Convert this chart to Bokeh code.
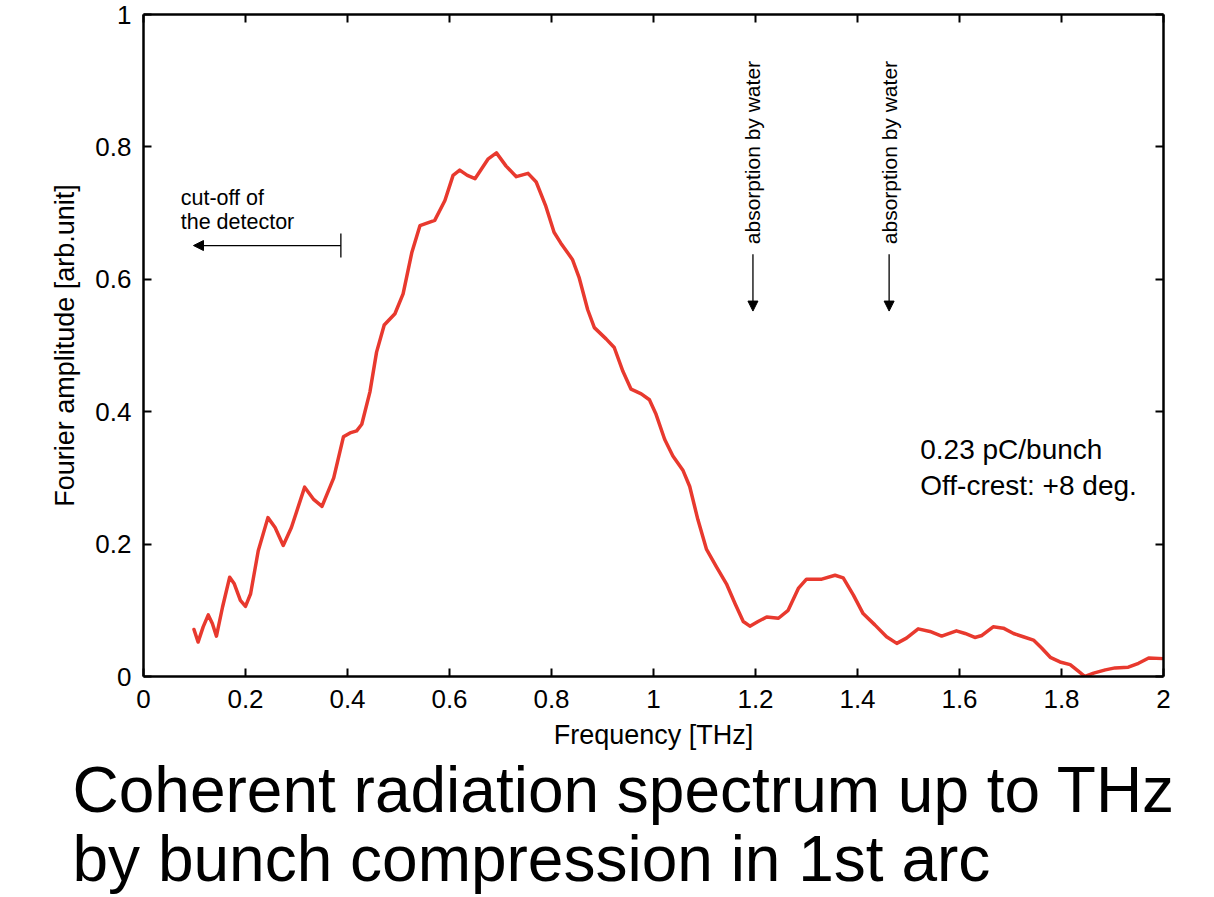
from bokeh.plotting import figure
from bokeh.models import (Range1d, LinearAxis, FixedTicker, CustomJSTickFormatter,
                          Arrow, NormalHead, Title, Label)
from bokeh.embed import file_html
from bokeh.resources import INLINE
import math

# ---- data ----
freq = [0.099, 0.107, 0.117, 0.127, 0.135, 0.143, 0.155, 0.169, 0.178, 0.19, 0.200, 0.210,
        0.225, 0.244, 0.258, 0.274, 0.29, 0.316, 0.333, 0.350, 0.373, 0.392, 0.405, 0.418,
        0.428, 0.444, 0.457, 0.472, 0.493, 0.509, 0.526, 0.542, 0.571, 0.591, 0.607, 0.620,
        0.635, 0.650, 0.676, 0.692, 0.711, 0.731, 0.754, 0.770, 0.789, 0.805, 0.818, 0.841,
        0.854, 0.871, 0.884, 0.907, 0.923, 0.940, 0.956, 0.976, 0.992, 1.005, 1.022, 1.038,
        1.058, 1.071, 1.087, 1.104, 1.124, 1.143, 1.160, 1.176, 1.189, 1.205, 1.222, 1.245,
        1.264, 1.284, 1.300, 1.330, 1.356, 1.372, 1.392, 1.411, 1.434, 1.457, 1.477, 1.496,
        1.519, 1.542, 1.565, 1.594, 1.611, 1.630, 1.644, 1.666, 1.686, 1.706, 1.725, 1.745,
        1.761, 1.778, 1.797, 1.817, 1.833, 1.846, 1.863, 1.886, 1.905, 1.931, 1.951, 1.971, 2.0]
amplitude = [0.071, 0.052, 0.075, 0.093, 0.080, 0.061, 0.105, 0.150, 0.140, 0.115, 0.106, 0.125,
             0.190, 0.240, 0.225, 0.198, 0.225, 0.286, 0.268, 0.257, 0.300, 0.362, 0.368, 0.371,
             0.381, 0.430, 0.490, 0.531, 0.548, 0.578, 0.640, 0.681, 0.689, 0.719, 0.757, 0.765,
             0.757, 0.752, 0.782, 0.791, 0.771, 0.755, 0.760, 0.747, 0.710, 0.671, 0.655, 0.630,
             0.603, 0.554, 0.527, 0.510, 0.497, 0.461, 0.434, 0.427, 0.418, 0.396, 0.358, 0.333,
             0.311, 0.287, 0.237, 0.192, 0.165, 0.140, 0.110, 0.083, 0.076, 0.083, 0.090, 0.088,
             0.100, 0.133, 0.147, 0.147, 0.153, 0.149, 0.123, 0.095, 0.078, 0.060, 0.050, 0.058,
             0.072, 0.068, 0.061, 0.069, 0.065, 0.059, 0.062, 0.075, 0.073, 0.065, 0.060, 0.055,
             0.043, 0.029, 0.022, 0.018, 0.008, 0.000, 0.005, 0.010, 0.013, 0.014, 0.020, 0.028, 0.027]

x_ticks = [0, 0.2, 0.4, 0.6, 0.8, 1, 1.2, 1.4, 1.6, 1.8, 2]
x_tick_labels = ["0", "0.2", "0.4", "0.6", "0.8", "1", "1.2", "1.4", "1.6", "1.8", "2"]
y_ticks = [0, 0.2, 0.4, 0.6, 0.8, 1]
y_tick_labels = ["0", "0.2", "0.4", "0.6", "0.8", "1"]

cutoff_freq = 0.387
cutoff_arrow_end = 0.098
cutoff_level = 0.651
water_freqs = [1.195, 1.462]

caption_lines = ["Coherent radiation spectrum up to THz", "by bunch compression in 1st arc"]

FONT = "Liberation Sans"

p = figure(width=1206, height=895, output_backend="svg", toolbar_location=None,
           x_range=Range1d(0, 2), y_range=Range1d(0, 1),
           min_border_left=143, min_border_right=43, min_border_top=14, min_border_bottom=219,
           x_axis_label="Frequency [THz]", y_axis_label="Fourier amplitude [arb.unit]")
p.outline_line_color = None
p.grid.visible = False
p.background_fill_color = "white"
p.border_fill_color = "white"


def fmt(ticks, labels):
    return CustomJSTickFormatter(args=dict(tv=ticks, tl=labels), code="""
        for (let i = 0; i < tv.length; i++) {
            if (Math.abs(tv[i] - tick) < 1e-9) { return tl[i]; }
        }
        return String(tick);
    """)


def style_axis(ax, ticks, labels, show_labels=True):
    ax.ticker = FixedTicker(ticks=ticks)
    ax.formatter = fmt(ticks, labels)
    ax.axis_line_width = 2.5
    ax.axis_line_color = "black"
    ax.major_tick_in = 8
    ax.major_tick_out = 0
    ax.major_tick_line_width = 2
    ax.major_tick_line_color = "black"
    ax.minor_tick_line_color = None
    ax.major_label_text_font = FONT
    ax.major_label_text_font_size = "26px"
    ax.major_label_text_color = "black"
    ax.axis_label_text_font = FONT
    ax.axis_label_text_font_size = "27px"
    ax.axis_label_text_font_style = "normal"
    ax.axis_label_text_color = "black"
    if not show_labels:
        ax.major_label_text_font_size = "0px"
        ax.major_label_standoff = 0
        ax.major_label_text_color = None


style_axis(p.xaxis[0], x_ticks, x_tick_labels)
style_axis(p.yaxis[0], y_ticks, y_tick_labels)
p.xaxis[0].major_label_standoff = 13
p.xaxis[0].axis_label_standoff = 9
p.yaxis[0].major_label_standoff = 12
p.yaxis[0].axis_label_standoff = 12

top_ax = LinearAxis()
style_axis(top_ax, x_ticks, x_tick_labels, show_labels=False)
p.add_layout(top_ax, "above")
right_ax = LinearAxis()
style_axis(right_ax, y_ticks, y_tick_labels, show_labels=False)
p.add_layout(right_ax, "right")

# spectrum
p.line(freq, amplitude, line_color="#e8392e", line_width=3.5, line_join="round", line_cap="round")

# cut-off annotation
p.add_layout(Arrow(end=NormalHead(size=10, fill_color="black", line_color="black"),
                   x_start=cutoff_freq, y_start=cutoff_level,
                   x_end=cutoff_arrow_end, y_end=cutoff_level,
                   line_width=1.3, line_color="black"))
p.segment(x0=[cutoff_freq], y0=[cutoff_level - 0.018], x1=[cutoff_freq], y1=[cutoff_level + 0.018],
          line_color="black", line_width=1.3)
p.add_layout(Label(x=0.073, y=0.723, text="cut-off of", text_font=FONT, text_font_size="21.5px",
                   text_baseline="middle", text_align="left", text_color="black"))
p.add_layout(Label(x=0.073, y=0.686, text="the detector", text_font=FONT, text_font_size="21.5px",
                   text_baseline="middle", text_align="left", text_color="black"))

# absorption by water annotations
for wf in water_freqs:
    p.add_layout(Arrow(end=NormalHead(size=10, fill_color="black", line_color="black"),
                       x_start=wf, y_start=0.638, x_end=wf, y_end=0.552,
                       line_width=1.3, line_color="black"))
    p.add_layout(Label(x=wf, y=0.653, text="absorption by water", angle=math.pi / 2,
                       text_font=FONT, text_font_size="21px", text_baseline="middle",
                       text_align="left", text_color="black"))

# condition text
p.add_layout(Label(x=1.523, y=0.343, text="0.23 pC/bunch", text_font=FONT, text_font_size="28px",
                   text_baseline="middle", text_align="left", text_color="black"))
p.add_layout(Label(x=1.523, y=0.288, text="Off-crest: +8 deg.", text_font=FONT, text_font_size="28px",
                   text_baseline="middle", text_align="left", text_color="black"))

# big caption below the chart
cap = Title(text="\n".join(caption_lines), align="left", offset=-71, text_font=FONT,
            text_font_size="64px", text_font_style="normal", text_color="black",
            text_line_height=0.96, standoff=0)
p.add_layout(cap, "below")

open("out.html", "w").write(file_html(p, INLINE))
